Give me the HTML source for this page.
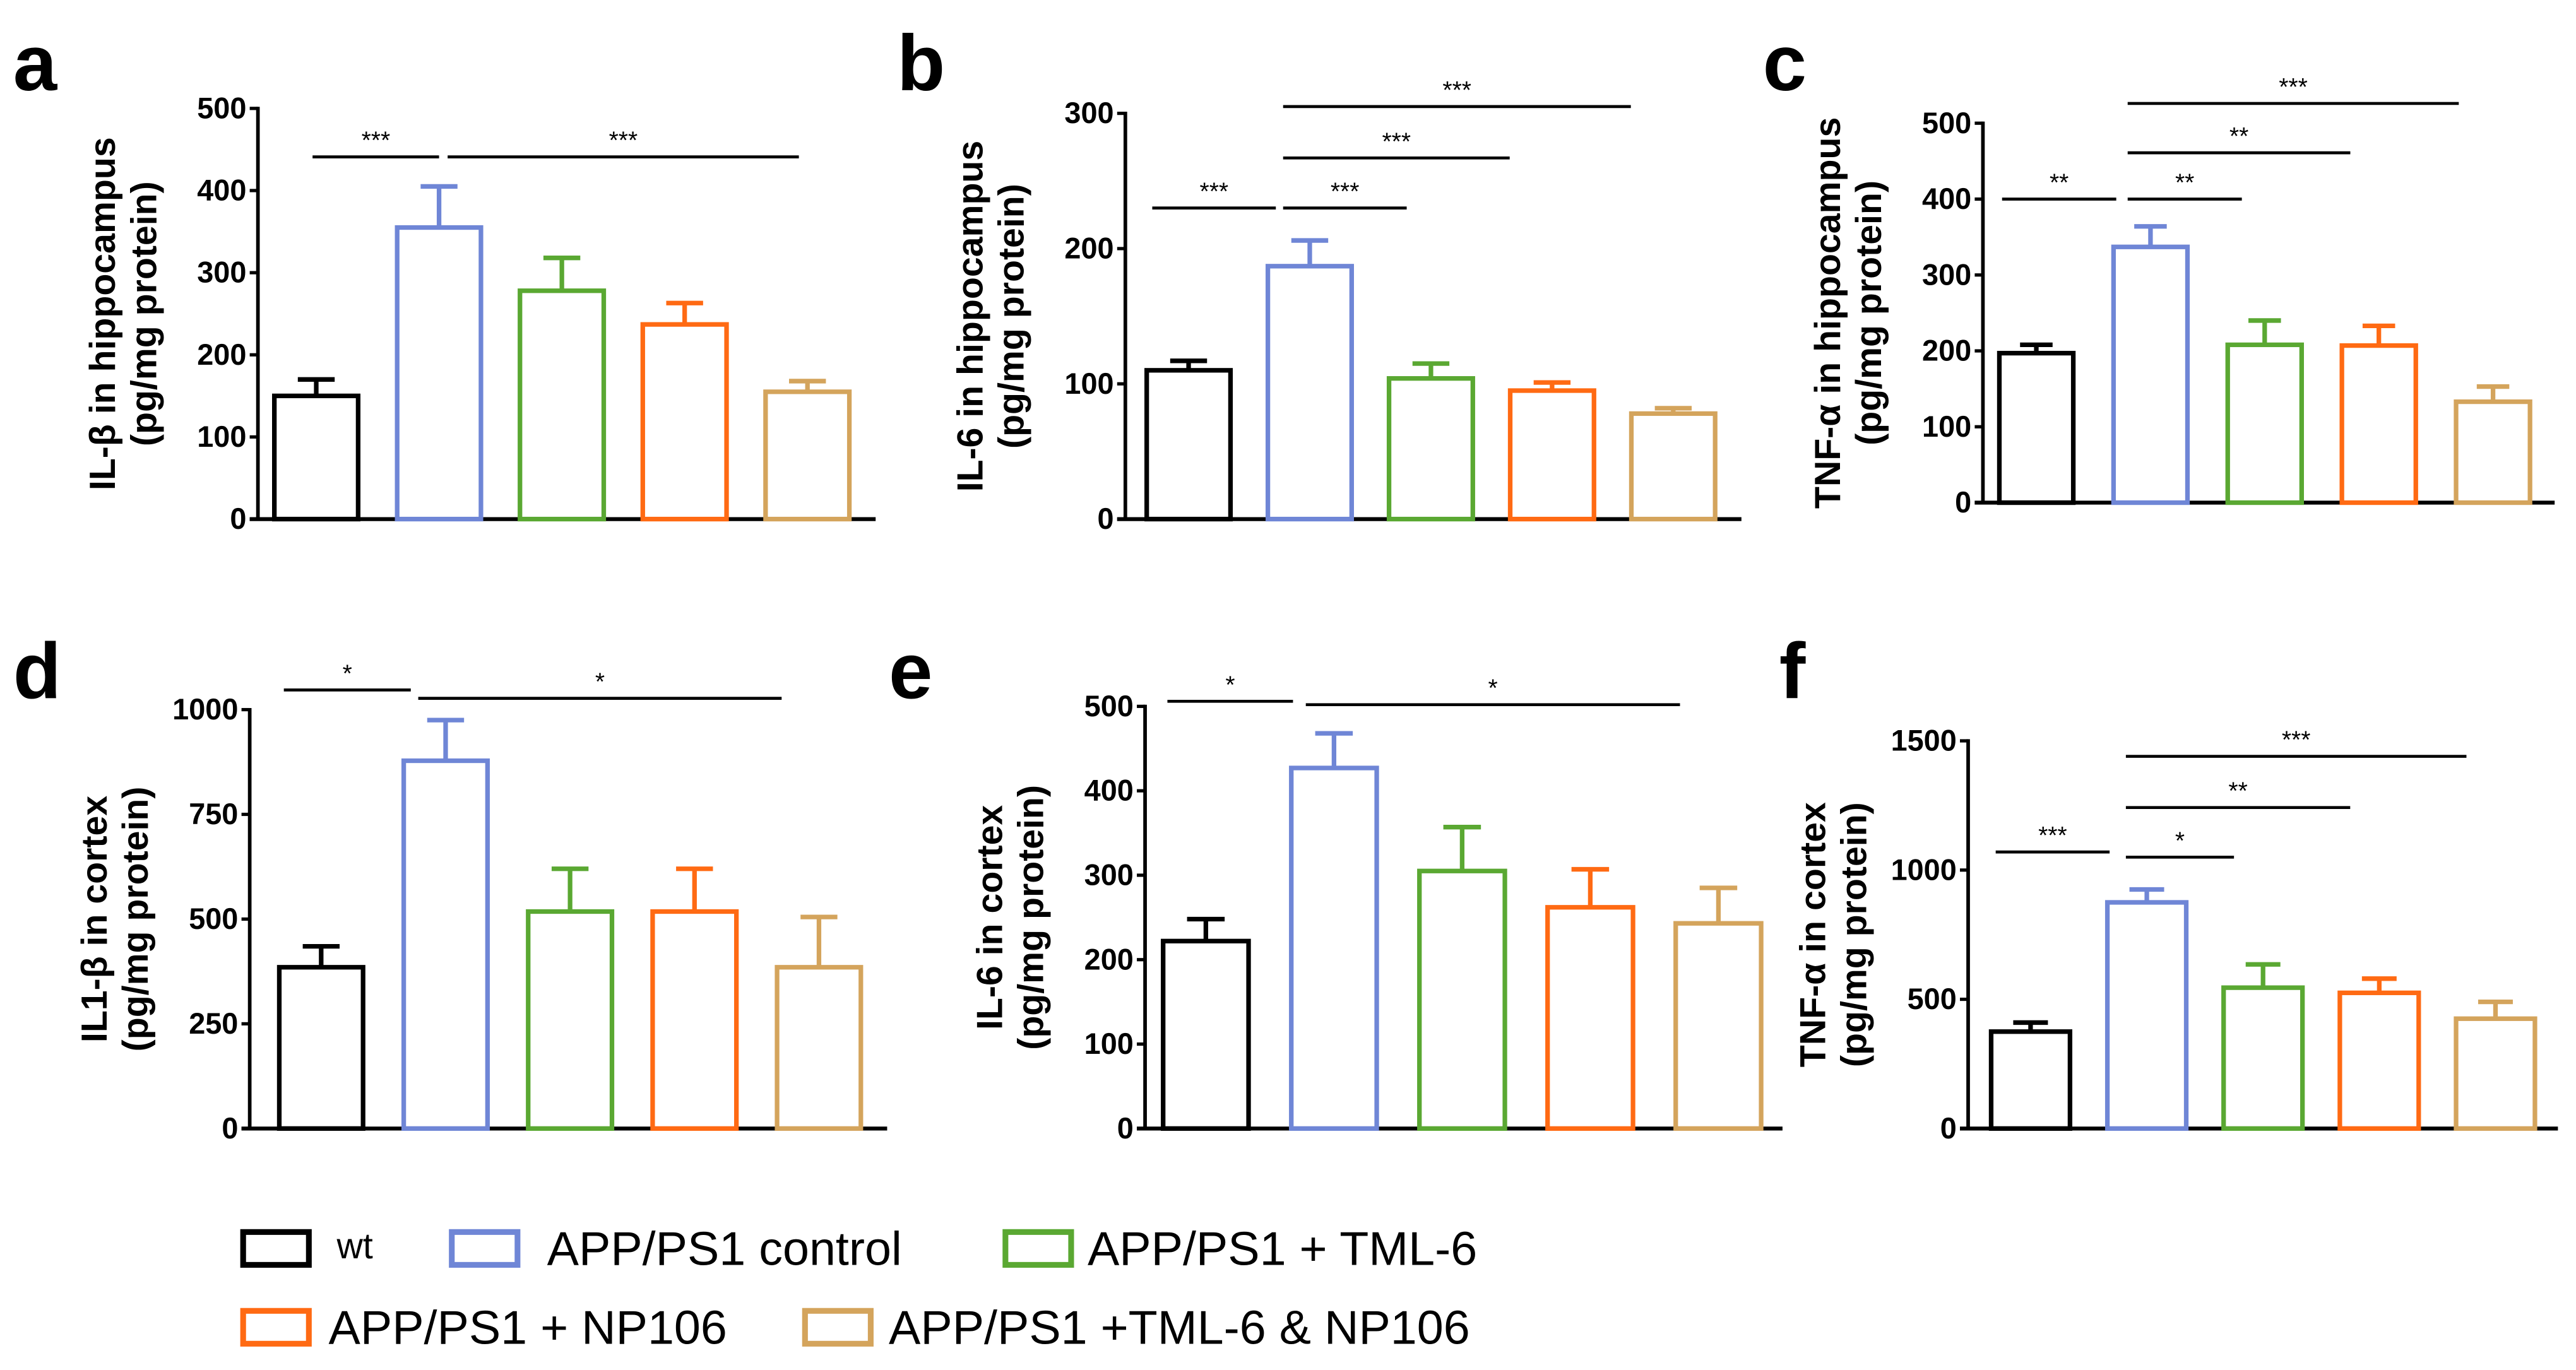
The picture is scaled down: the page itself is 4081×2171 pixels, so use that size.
<!DOCTYPE html>
<html><head><meta charset="utf-8"><style>
html,body{margin:0;padding:0;background:#fff;}
svg{display:block;font-family:"Liberation Sans",Arial,sans-serif;}
</style></head><body>
<svg id="fig" width="4081" height="2171" viewBox="0 0 1568 834" preserveAspectRatio="none" xmlns="http://www.w3.org/2000/svg"></svg>
<script>
const groups = ["wt","APP/PS1 control","APP/PS1 + TML-6","APP/PS1 + NP106","APP/PS1 +TML-6 & NP106"];
const colors = ["#000000","#6f86d6","#5aa832","#ff6a13","#d4a45c"];
const letters = ["a","b","c","d","e","f"];
const ylabels1 = ["IL-β in hippocampus","IL-6 in hippocampus","TNF-α in hippocampus","IL1-β in cortex","IL-6 in cortex","TNF-α in cortex"];
const ylabel2 = "(pg/mg protein)";
const yMax = [500,300,500,1000,500,1500];
const yTicksA = [0,100,200,300,400,500];
const yTicksB = [0,100,200,300];
const yTicksC = [0,100,200,300,400,500];
const yTicksD = [0,250,500,750,1000];
const yTicksE = [0,100,200,300,400,500];
const yTicksF = [0,500,1000,1500];
const meansA = [150,355,278,237,155];
const errsA = [170,405,318,263,168];
const meansB = [110,187,104,95,78];
const errsB = [117,206,115,101,82];
const meansC = [197,337,208,207,133];
const errsC = [208,364,240,233,153];
const meansD = [385,878,518,518,385];
const errsD = [435,975,620,620,505];
const meansE = [222,427,305,262,243];
const errsE = [248,468,357,307,285];
const meansF = [375,875,545,525,425];
const errsF = [410,925,635,580,490];
// significance bars: [startIndex, endIndex (fractional bar index), value, label]
const sigA = [[-0.03,1.0,441,"***"],[1.07,3.93,441,"***"]];
const sigB = [[-0.3,0.72,230,"***"],[0.78,1.8,230,"***"],[0.78,2.65,267,"***"],[0.78,3.65,305,"***"]];
const sigC = [[-0.3,0.7,400,"**"],[0.8,1.8,400,"**"],[0.8,2.75,461,"**"],[0.8,3.7,526,"***"]];
const sigD = [[-0.3,0.72,1047,"*"],[0.78,3.7,1027,"*"]];
const sigE = [[-0.3,0.68,506,"*"],[0.78,3.7,502,"*"]];
const sigF = [[-0.3,0.68,1070,"***"],[0.82,1.75,1050,"*"],[0.82,2.75,1242,"**"],[0.82,3.75,1440,"***"]];

const panels = [
 {ax:157,y0:316,yt:66,b0:167,b4:466,bw:51,end:533,ticks:yTicksA,m:meansA,e:errsA,s:sigA,lx:8,ly:55},
 {ax:685,y0:316,yt:69,b0:698,b4:993,bw:51,end:1060,ticks:yTicksB,m:meansB,e:errsB,s:sigB,lx:546,ly:55},
 {ax:1207,y0:306,yt:75,b0:1217,b4:1495,bw:45,end:1555,ticks:yTicksC,m:meansC,e:errsC,s:sigC,lx:1073,ly:55},
 {ax:152,y0:687,yt:432,b0:170,b4:473,bw:51,end:540,ticks:yTicksD,m:meansD,e:errsD,s:sigD,lx:8,ly:425},
 {ax:697,y0:687,yt:430,b0:708,b4:1020,bw:52,end:1085,ticks:yTicksE,m:meansE,e:errsE,s:sigE,lx:541,ly:425},
 {ax:1198,y0:687,yt:451,b0:1212,b4:1495,bw:48,end:1557,ticks:yTicksF,m:meansF,e:errsF,s:sigF,lx:1083,ly:425}
];
const NS="http://www.w3.org/2000/svg";
const svg=document.getElementById('fig');
function mk(tag,attrs,parent){const el=document.createElementNS(NS,tag);for(const k in attrs)el.setAttribute(k,attrs[k]);(parent||svg).appendChild(el);return el;}

panels.forEach((p,pi)=>{
  const g=mk('g',{});
  
  
  const ys=v=>p.y0-(v/yMax[pi])*(p.y0-p.yt);
  const step=(p.b4-p.b0)/4;
  const cx=i=>p.b0+p.bw/2+i*step;
  const L=mk('text',{x:p.lx,y:p.ly,'font-size':48,'font-weight':'bold'},g);L.textContent=letters[pi];
  
  
  const midY=(p.y0+p.yt)/2;
  [ylabels1[pi],ylabel2].forEach((t,k)=>{
    const tx=mk('text',{x:0,y:0,'font-size':22,'font-weight':'bold','text-anchor':'middle',transform:`translate(${p.ax-94+25*k+7},${midY}) rotate(-90)`},g);
    tx.textContent=t;
    
    
  });
  const ax=mk('line',{x1:p.ax,y1:p.yt-1,x2:p.ax,y2:p.y0,stroke:'#000','stroke-width':2.2},g);
  
  
  const xa=mk('line',{x1:p.ax-5,y1:p.y0,x2:p.end,y2:p.y0,stroke:'#000','stroke-width':2.4},g);
  
  
  p.ticks.forEach(t=>{
    const y=ys(t);
    mk('line',{x1:p.ax-5,y1:y,x2:p.ax,y2:y,stroke:'#000','stroke-width':2},g);
    const tl=mk('text',{x:p.ax-7,y:y+6,'font-size':18,'font-weight':'bold','text-anchor':'end'},g);
    tl.textContent=t;
    
    
  });
  p.m.forEach((v,i)=>{
    const x=p.b0+i*step, yt=ys(v), ye=ys(p.e[i]);
    const c=colors[i];
    const er=mk('path',{d:`M${cx(i)} ${yt} V${ye} M${cx(i)-p.bw*0.22} ${ye} H${cx(i)+p.bw*0.22}`,stroke:c,'stroke-width':2.8,fill:'none'},g);
    
    
    const r=mk('rect',{x:x,y:yt,width:p.bw,height:p.y0-yt,fill:'#fff',stroke:c,'stroke-width':2.8},g);
    
    
  });
  p.s.forEach(s=>{
    const x1=cx(s[0]),x2=cx(s[1]),y=ys(s[2]);
    const ln=mk('line',{x1:x1,y1:y,x2:x2,y2:y,stroke:'#000','stroke-width':1.8},g);
    
    
    const st=mk('text',{x:(x1+x2)/2,y:y-5,'font-size':15,'text-anchor':'middle'},g);
    st.textContent=s[3];
    
    
  });
});

// legend
const legPos=[[148,760,205,22],[275,760,333,29],[612,760,662,29],[148,808,200,29],[490,808,541,29]];
groups.forEach((gname,i)=>{
  const lg=mk('g',{});
  
  
  const p=legPos[i];
  mk('rect',{x:p[0],y:p[1]-10,width:40,height:20,fill:'#fff',stroke:colors[i],'stroke-width':3.5},lg);
  const t=mk('text',{x:p[2],y:p[1]+(i===0?6:10),'font-size':p[3]},lg);
  t.textContent=gname;
});
</script>
</body></html>
